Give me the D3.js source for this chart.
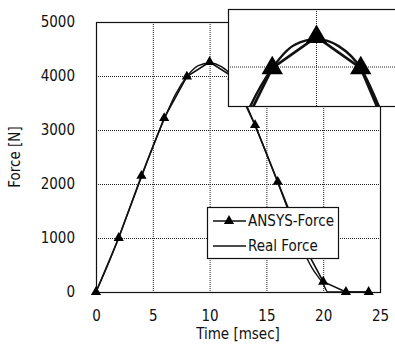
<!DOCTYPE html>
<html>
<head>
<meta charset="utf-8">
<script src="https://cdn.jsdelivr.net/npm/d3@7"></script>
<style>
  body { margin: 0; background: #fff; }
  svg { display: block; }
  text { font-family: "DejaVu Sans Condensed", "DejaVu Sans", sans-serif; fill: #111; }
</style>
</head>
<body>
<script>
// ANSYS simulation points (time in msec, force in N)
const ansysTime  = [0, 2, 4, 6, 8, 10, 12, 14, 16, 18, 20, 22, 24];
const ansysForce = [0, 1000, 2150, 3220, 3990, 4260, 3990, 3090, 2040, 980, 190, 0, 0];
// measured force curve
const realTime  = [0, 1, 2, 3, 4, 5, 6, 7, 8, 9, 10, 11, 12, 13, 14, 15, 16, 17, 18, 19, 20, 20.4, 22, 24];
const realForce = [0, 480, 1010, 1570, 2130, 2690, 3200, 3660, 3990, 4190, 4240, 4180, 3990, 3580, 3090, 2570, 2030, 1470, 900, 450, 150, 0, 0, 0];
const xTicks = [0, 5, 10, 15, 20, 25];
const yTicks = [0, 1000, 2000, 3000, 4000, 5000];
const legendLabels = ["ANSYS-Force", "Real Force"];

const W = 395, H = 352;
const svg = d3.select("body").append("svg").attr("width", W).attr("height", H);

const x = d3.scaleLinear().domain([0, 25]).range([96, 380]);
const y = d3.scaleLinear().domain([0, 5000]).range([292, 22]);

// zoomed inset around the peak
const inset = {x0: 228, y0: 9, x1: 405, y1: 106};
const xi = d3.scaleLinear().domain([6, 14]).range([228, 405]);
const yi = d3.scaleLinear().domain([3664, 4500]).range([106, 9]);

const ansys = ansysTime.map((t, i) => ({t: t, f: ansysForce[i]}));
const real = realTime.map((t, i) => ({t: t, f: realForce[i]}));

// grid
const grid = svg.append("g").attr("stroke", "#222").attr("stroke-width", 1).attr("stroke-dasharray", "1,1");
grid.selectAll(".gx").data(xTicks.slice(1, -1)).enter().append("line")
  .attr("x1", d => x(d) + 0.5).attr("x2", d => x(d) + 0.5)
  .attr("y1", y(5000)).attr("y2", y(0));
grid.selectAll(".gy").data(yTicks.slice(1, -1)).enter().append("line")
  .attr("y1", d => y(d) + 0.5).attr("y2", d => y(d) + 0.5)
  .attr("x1", x(0)).attr("x2", x(25));

// frame
svg.append("rect").attr("x", x(0) + 0.5).attr("y", y(5000) + 0.5)
  .attr("width", x(25) - x(0)).attr("height", y(0) - y(5000))
  .attr("fill", "none").attr("stroke", "#111").attr("stroke-width", 1.2);

// axes labels
const xAxis = d3.axisBottom(x).tickValues(xTicks).tickFormat(d3.format("d")).tickSize(0).tickPadding(18);
svg.append("g").attr("transform", "translate(0," + y(0) + ")").call(xAxis)
  .call(g => g.select(".domain").remove())
  .selectAll("text").style("font-size", "15px").attr("fill", "#111");
const yAxis = d3.axisLeft(y).tickValues(yTicks).tickFormat(d3.format("d")).tickSize(0).tickPadding(21);
svg.append("g").attr("transform", "translate(" + x(0) + ",0)").call(yAxis)
  .call(g => g.select(".domain").remove())
  .selectAll("text").style("font-size", "15px").attr("fill", "#111");

svg.append("text").attr("x", (x(0) + x(25)) / 2).attr("y", 339)
  .attr("text-anchor", "middle").style("font-size", "15px").text("Time [msec]");
svg.append("text").attr("transform", "translate(20," + ((y(0) + y(5000)) / 2) + ") rotate(-90)")
  .attr("text-anchor", "middle").style("font-size", "15px").text("Force [N]");

const tri = d3.symbol().type(d3.symbolTriangle);

function drawSeries(g, sx, sy, k, kl) {
  const line = d3.line().x(d => sx(d.t)).y(d => sy(d.f));
  const smooth = d3.line().x(d => sx(d.t)).y(d => sy(d.f)).curve(d3.curveMonotoneX);
  g.append("path").datum(real).attr("d", smooth)
    .attr("fill", "none").attr("stroke", "#111").attr("stroke-width", 1.4 * kl);
  g.append("path").datum(ansys).attr("d", line)
    .attr("fill", "none").attr("stroke", "#111").attr("stroke-width", 1.6 * kl);
  g.selectAll(".tri").data(ansys).enter().append("path")
    .attr("d", tri.size(45 * k * k))
    .attr("transform", d => "translate(" + sx(d.t) + "," + sy(d.f) + ")")
    .attr("fill", "#000");
}

drawSeries(svg.append("g"), x, y, 1, 1);

// inset
svg.append("defs").append("clipPath").attr("id", "clipInset").append("rect")
  .attr("x", inset.x0).attr("y", inset.y0)
  .attr("width", inset.x1 - inset.x0).attr("height", inset.y1 - inset.y0);
svg.append("rect").attr("x", inset.x0 + 0.5).attr("y", inset.y0 + 0.5)
  .attr("width", inset.x1 - inset.x0).attr("height", inset.y1 - inset.y0)
  .attr("fill", "#fff");
const ig = svg.append("g").attr("clip-path", "url(#clipInset)");
ig.append("line").attr("x1", xi(10)).attr("x2", xi(10)).attr("y1", inset.y0).attr("y2", inset.y1)
  .attr("stroke", "#222").attr("stroke-dasharray", "1,1");
ig.append("line").attr("x1", inset.x0).attr("x2", inset.x1).attr("y1", yi(4000)).attr("y2", yi(4000))
  .attr("stroke", "#222").attr("stroke-dasharray", "1,1");
drawSeries(ig, xi, yi, 2.1, 1.7);
svg.append("rect").attr("x", inset.x0 + 0.5).attr("y", inset.y0 + 0.5)
  .attr("width", inset.x1 - inset.x0).attr("height", inset.y1 - inset.y0)
  .attr("fill", "none").attr("stroke", "#111").attr("stroke-width", 1.2);

// legend
const lg = svg.append("g").attr("transform", "translate(207,207)");
lg.append("rect").attr("x", 0.5).attr("y", 0.5).attr("width", 131).attr("height", 51)
  .attr("fill", "#fff").attr("stroke", "#111").attr("stroke-width", 1.2);
legendLabels.forEach((lab, i) => {
  const yy = 14 + i * 25;
  lg.append("line").attr("x1", 6).attr("x2", 39).attr("y1", yy).attr("y2", yy)
    .attr("stroke", "#111").attr("stroke-width", i === 0 ? 1.6 : 1.4);
  if (i === 0) {
    lg.append("path").attr("d", tri.size(45)).attr("transform", "translate(22," + yy + ")").attr("fill", "#000");
  }
  lg.append("text").attr("x", 41).attr("y", yy + 5).style("font-size", "15px").text(lab);
});
</script>
</body>
</html>
